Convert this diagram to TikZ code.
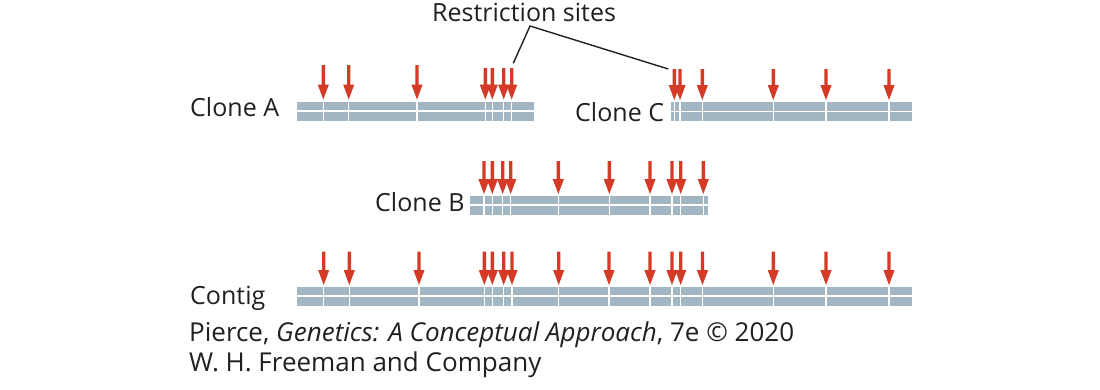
\documentclass[tikz,border=0pt]{standalone}
\usepackage{fontspec}
\setmainfont{Open Sans}
\definecolor{sitered}{HTML}{D43A25}
\definecolor{dnablue}{HTML}{A2B5C2}
\definecolor{ink}{HTML}{231F20}
% one restriction-site arrow: x, top of shaft, tip
\newcommand\sitearrow[3]{%
  \fill[sitered] (#1-1.7,#2) -- (#1+1.7,#2) -- (#1+1.7,#3-15) -- (#1+5.6,#3-15)
    -- (#1,#3) -- (#1-5.6,#3-15) -- (#1-1.7,#3-15) -- cycle;}
% double-stranded DNA bar: left, right, top
\newcommand\dnabar[3]{%
  \fill[dnablue] (#1,#3) rectangle (#2,#3+8.4);
  \fill[dnablue] (#1,#3+10) rectangle (#2,#3+19);}
\newcommand\sitecut[2]{\draw[white,line width=1.4pt] (#1,#2) -- (#1,#2+19);}
\begin{document}
\begin{tikzpicture}[x=1pt,y=-1pt,
  lbl/.style={anchor=base west,inner sep=0pt,text=ink,font=\fontsize{25}{29}\selectfont},
  credit/.style={lbl,font=\fontsize{26}{30}\selectfont},
  leader/.style={draw=ink,line width=1.4pt}]
\useasboundingbox (0,0) rectangle (1100,389);

% Clone A
\node[lbl] (cloneA) at (190,116.7) {Clone A};
\dnabar{297}{534}{101.7}
\foreach \x in {323.3,348.7,417} {\sitecut{\x}{101.7}\sitearrow{\x}{65}{99.5}}
\foreach \x in {485.3,492.3,503.7,511.7} {\sitecut{\x}{101.7}\sitearrow{\x}{68}{99.5}}

% Clone C
\node[lbl] (cloneC) at (575,121.5) {Clone C};
\dnabar{671}{912}{102.3}
\foreach \x in {674.3,680,702.3,773.3,826,889} {\sitecut{\x}{102.3}\sitearrow{\x}{69}{100}}

% Clone B
\node[lbl] (cloneB) at (375,211.7) {Clone B};
\dnabar{470}{708}{195.7}
\foreach \x in {484,492.3,502.7,510.7,558.3,609.3,650,672,680.7,703.3} {\sitecut{\x}{195.7}\sitearrow{\x}{161}{194}}

% Contig
\node[lbl] (contig) at (190,304.5) {Contig};
\dnabar{297.3}{912}{286.7}
\foreach \x in {323.7,349.3,419,484.3,492.3,503.7,512,558.7,609,650,672,680.7,702.5,773.3,826,889} {\sitecut{\x}{286.7}\sitearrow{\x}{251.7}{285}}

% label and leader lines
\node[lbl] (sites) at (432,21) {Restriction sites};
\coordinate (apex) at (530,26);
\coordinate (siteA) at (513.3,63.3);
\coordinate (siteC) at (668.3,69);
\draw[leader] (siteA) -- (apex) -- (siteC);

% credit
\node[credit] (credit1) at (189,341.7) {Pierce, \textit{Genetics: A Conceptual Approach}, 7e © 2020};
\node[credit] (credit2) at (189,371.7) {W. H. Freeman and Company};
\end{tikzpicture}
\end{document}
